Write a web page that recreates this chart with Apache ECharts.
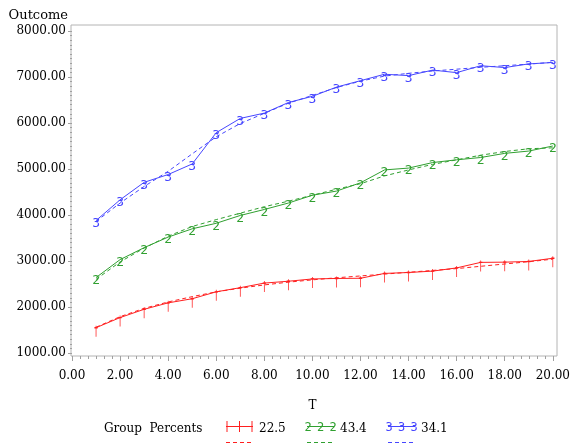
<!DOCTYPE html>
<html>
<head>
<meta charset="utf-8">
<script src="https://cdn.jsdelivr.net/npm/echarts@6/dist/echarts.min.js"></script>
<style>html,body{margin:0;padding:0;background:#fff}#c{width:573px;height:444px}</style>
</head>
<body>
<div id="c"></div>
<script>
const T = [1,2,3,4,5,6,7,8,9,10,11,12,13,14,15,16,17,18,19,20];
const redObs   = [1550,1770,1950,2090,2180,2330,2420,2520,2560,2610,2620,2625,2730,2750,2780,2850,2970,2975,2990,3060];
const redFit   = [1560,1790,1970,2110,2225,2330,2410,2480,2540,2590,2635,2675,2715,2755,2795,2835,2885,2935,2985,3040];
const greenObs = [2640,3030,3290,3520,3700,3820,3990,4120,4260,4430,4520,4700,4980,5020,5140,5200,5250,5340,5390,5500];
const greenFit = [2600,2980,3280,3540,3750,3900,4040,4180,4300,4430,4560,4680,4850,4980,5100,5200,5300,5380,5440,5460];
const blueObs  = [3880,4330,4710,4880,5110,5790,6100,6215,6445,6580,6780,6920,7060,7030,7150,7095,7245,7205,7285,7315];
const blueFit  = [3860,4260,4620,4950,5330,5700,5990,6210,6430,6600,6770,6910,7020,7080,7130,7170,7210,7245,7280,7320];
const groups   = ['22.5','43.4','34.1'];
const glyphs   = ['1','2','3'];
const colors   = ['#ff1f1f','#30a030','#4646ff'];
const yTicks   = [1000,2000,3000,4000,5000,6000,7000,8000];

const serif = "'DejaVu Serif', serif";
const pairs = a => a.map((v,i)=>[T[i], v]);
const crossPath = 'path://M3,0 L3,11 M0,2 L6,2';

function fitSeries(data, c){
  return {type:'line', xAxisIndex:0, yAxisIndex:0, data:pairs(data), symbol:'none', silent:true,
    lineStyle:{color:c, width:1, type:[4,3]}, z:2};
}
function obsSeries(data, c, g){
  if (g === '1') {
    return {type:'line', xAxisIndex:0, yAxisIndex:0, data:pairs(data), symbol:crossPath,
      symbolSize:[6,11], symbolOffset:[0,3.5], symbolKeepAspect:true,
      itemStyle:{color:'rgba(0,0,0,0)', borderColor:c, borderWidth:1},
      lineStyle:{color:c, width:1}, z:3, silent:true};
  }
  return {type:'line', xAxisIndex:0, yAxisIndex:0, data:pairs(data), symbol:'circle', symbolSize:1,
    itemStyle:{color:'rgba(0,0,0,0)'},
    label:{show:true, position:'inside', offset:[0,3], formatter:g, color:c,
      fontFamily:"'DejaVu Sans Mono', monospace", fontSize:13},
    lineStyle:{color:c, width:1}, z:3, silent:true};
}

// legend graphics
const legendChildren = [{type:'text', x:104, y:429,
  style:{text:'Group  Percents', font:"12px 'DejaVu Serif'", fill:'#000', verticalAlign:'middle'}}];
const legendX = [226, 307, 388];
groups.forEach((g,i)=>{
  const x0 = legendX[i], c = colors[i];
  legendChildren.push({type:'line', shape:{x1:x0, y1:426.5, x2:x0+27, y2:426.5}, style:{stroke:c, lineWidth:1}});
  [1,13.5,26].forEach(dx=>{
    if (i===0) {
      legendChildren.push({type:'line', shape:{x1:x0+dx, y1:421, x2:x0+dx, y2:432}, style:{stroke:c, lineWidth:1}});
    } else {
      legendChildren.push({type:'text', x:x0+dx, y:428, style:{text:glyphs[i], fill:c, align:'center', verticalAlign:'middle',
        font:"12px 'DejaVu Sans Mono'"}});
    }
  });
  legendChildren.push({type:'line', shape:{x1:x0, y1:442.5, x2:x0+27, y2:442.5}, style:{stroke:c, lineWidth:1, lineDash:[4,3]}});
  legendChildren.push({type:'text', x:x0+33, y:429, style:{text:g, fill:'#000', verticalAlign:'middle', font:"12px 'DejaVu Serif'"}});
});

const chart = echarts.init(document.getElementById('c'), null, {renderer:'canvas'});
chart.setOption({
  animation:false,
  backgroundColor:'#fff',
  grid:[
    {left:72, right:17, top:31, bottom:91, show:false},
    {left:71, right:16, top:25, bottom:88, show:true, borderColor:'#b4b4b4', borderWidth:1, backgroundColor:'rgba(0,0,0,0)'}
  ],
  xAxis:[
    {type:'value', gridIndex:0, min:0, max:20, interval:2, offset:3,
      name:'T', nameLocation:'middle', nameGap:44,
      nameTextStyle:{fontFamily:serif, fontSize:12, color:'#000'},
      axisLine:{show:false},
      axisTick:{show:true, length:5, lineStyle:{color:'#a0a0a0'}},
      minorTick:{show:true, splitNumber:6, length:3, lineStyle:{color:'#a0a0a0'}},
      splitLine:{show:false},
      axisLabel:{margin:14, fontFamily:serif, fontSize:12, color:'#000', formatter:v=>v.toFixed(2)}},
    {type:'value', gridIndex:1, min:0, max:1, show:false}
  ],
  yAxis:[
    {type:'value', gridIndex:0, min:1000, max:8000, interval:1000, offset:1,
      name:'Outcome', nameLocation:'end', nameGap:9,
      nameTextStyle:{fontFamily:serif, fontSize:13, color:'#000', align:'right', padding:[0,4,0,0]},
      axisLine:{show:false},
      axisTick:{show:true, length:4, lineStyle:{color:'#a0a0a0'}},
      minorTick:{show:true, splitNumber:10, length:2, lineStyle:{color:'#a0a0a0'}},
      splitLine:{show:false},
      axisLabel:{margin:5, fontFamily:serif, fontSize:12, color:'#000', formatter:v=>v.toFixed(2),
        customValues: yTicks}},
    {type:'value', gridIndex:1, min:0, max:1, show:false}
  ],
  series:[
    fitSeries(redFit, colors[0]), fitSeries(greenFit, colors[1]), fitSeries(blueFit, colors[2]),
    obsSeries(redObs, colors[0], '1'), obsSeries(greenObs, colors[1], '2'), obsSeries(blueObs, colors[2], '3')
  ],
  graphic:[{type:'group', children:legendChildren}]
});
</script>
</body>
</html>
